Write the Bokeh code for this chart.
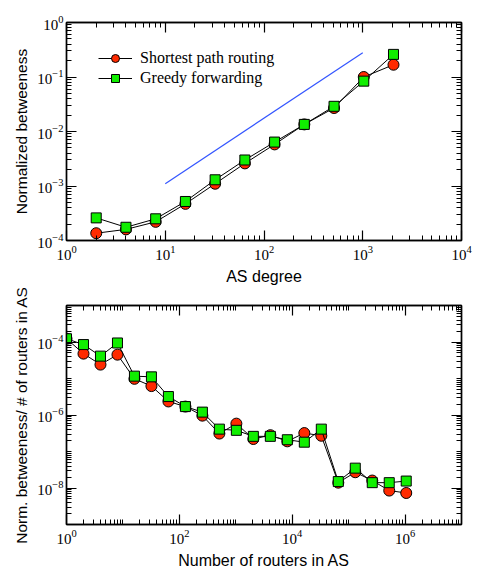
from bokeh.plotting import figure
from bokeh.models import (LogAxis, FixedTicker, Range1d, Legend, LegendItem, LogScale,
                          CustomJSTickFormatter)
from bokeh.layouts import column
from bokeh.embed import file_html
from bokeh.resources import INLINE

# ---------------- data ----------------
as_degree = [2, 4, 8, 16, 32, 64, 128, 256, 512, 1024, 2048]
sp_betweeness = [1.36e-4, 1.6e-4, 2.2e-4, 4.7e-4, 1.1e-3, 2.6e-3, 5.8e-3, 1.35e-2, 2.7e-2, 0.10, 0.168]
gf_betweeness = [2.6e-4, 1.75e-4, 2.5e-4, 5.2e-4, 1.3e-3, 3.0e-3, 6.4e-3, 1.35e-2, 2.9e-2, 0.084, 0.26]
guide_x = [10, 1000]
guide_y = [1.1e-3, 0.28]

routers = [1, 2, 4, 8, 16, 32, 64, 128, 256, 512, 1024, 2048, 4096, 8192,
           16384, 32768, 65536, 131072, 262144, 524288, 1048576]
sp_norm = [1.23e-4, 4.8e-5, 2.4e-5, 4.5e-5, 9.8e-6, 6.2e-6, 2.35e-6, 1.7e-6, 9.6e-7, 3.1e-7,
           5.8e-7, 2.2e-7, 2.8e-7, 1.9e-7, 3.2e-7, 2.7e-7, 1.4e-8, 2.7e-8, 1.6e-8, 8.5e-9, 7.3e-9]
gf_norm = [1.23e-4, 8.5e-5, 4.1e-5, 9.4e-5, 1.16e-5, 1.11e-5, 3.2e-6, 1.7e-6, 1.2e-6, 4.1e-7,
           3.8e-7, 2.6e-7, 2.6e-7, 2.1e-7, 1.8e-7, 4.1e-7, 1.5e-8, 3.5e-8, 1.4e-8, 1.4e-8, 1.55e-8]

top_x_ticks = [1, 10, 100, 1000, 10000]
top_y_ticks = [1e-4, 1e-3, 1e-2, 1e-1, 1]
bot_x_ticks = [1, 1e2, 1e4, 1e6]
bot_y_ticks = [1e-8, 1e-6, 1e-4]

RED = "#ff2a00"
GREEN = "#10ee00"
BLUE = "#3355ff"
SERIF = "Liberation Serif"
SANS = "Liberation Sans"


def minors(lo_exp, hi_exp):
    return [k * 10.0 ** n for n in range(lo_exp, hi_exp) for k in range(1, 10)]


def style_axis(ax, show_labels=True, horizontal=False):
    ax.axis_line_width = 1.4
    ax.axis_line_color = "black"
    ax.major_tick_in = 10
    ax.major_tick_out = 0
    ax.minor_tick_in = 5
    ax.minor_tick_out = 0
    ax.major_tick_line_width = 1.2
    ax.minor_tick_line_width = 1
    ax.major_tick_line_color = "black"
    ax.minor_tick_line_color = "black"
    ax.major_label_text_font = SERIF
    ax.major_label_text_font_size = "15px"
    ax.major_label_text_color = "black"
    ax.major_label_standoff = 5 if horizontal else 3
    ax.axis_label_text_font = SANS
    ax.axis_label_text_font_style = "normal"
    ax.axis_label_text_color = "black"
    ax.axis_label_standoff = 5 if horizontal else 4
    if not show_labels:
        ax.formatter = CustomJSTickFormatter(code="return '';")
        ax.major_label_standoff = 0


def make_fig(xr, yr, frame_h, border_top, border_bottom, xticks, xminor, yticks, yminor):
    p = figure(frame_width=395, frame_height=frame_h,
               x_axis_type=None, y_axis_type=None,
               x_range=xr, y_range=yr,
               output_backend="svg", toolbar_location=None,
               min_border_left=66, min_border_right=16,
               min_border_top=border_top, min_border_bottom=border_bottom)
    p.x_scale = LogScale()
    p.y_scale = LogScale()
    p.outline_line_color = "black"
    p.outline_line_width = 1.4
    axes = {}
    for place, ticks, mins, lab, hor in [("below", xticks, xminor, True, True),
                                          ("above", xticks, xminor, False, True),
                                          ("left", yticks, yminor, True, False),
                                          ("right", yticks, yminor, False, False)]:
        ax = LogAxis(ticker=FixedTicker(ticks=ticks, minor_ticks=mins))
        style_axis(ax, lab, hor)
        p.add_layout(ax, place)
        axes[place] = ax
    return p, axes


# ---------------- top panel ----------------
p1, ax1 = make_fig(Range1d(1, 1e4), Range1d(1e-4, 1), 218, 22, 46,
                   top_x_ticks, minors(0, 4), top_y_ticks, minors(-4, 0))
ax1["below"].axis_label = "AS degree"
ax1["below"].axis_label_text_font_size = "16px"
ax1["left"].axis_label = "Normalized betweeness"
ax1["left"].axis_label_text_font_size = "15.5px"

p1.line(guide_x, guide_y, line_color=BLUE, line_width=1.2)
l_sp = p1.line(as_degree, sp_betweeness, line_color="black", line_width=1)
s_sp = p1.scatter(as_degree, sp_betweeness, marker="circle", size=11,
                  fill_color=RED, line_color="black", line_width=1)
l_gf = p1.line(as_degree, gf_betweeness, line_color="black", line_width=1)
s_gf = p1.scatter(as_degree, gf_betweeness, marker="square", size=10,
                  fill_color=GREEN, line_color="black", line_width=1)

legend = Legend(items=[LegendItem(label="Shortest path routing", renderers=[l_sp, s_sp]),
                       LegendItem(label="Greedy forwarding", renderers=[l_gf, s_gf])],
                location=(32, 152), padding=0, margin=0, spacing=0,
                glyph_width=34, glyph_height=20, label_height=20, label_standoff=8,
                label_text_font=SERIF, label_text_font_size="16px", label_text_color="black",
                border_line_color=None, background_fill_alpha=0)
p1.add_layout(legend)

# ---------------- bottom panel ----------------
p2, ax2 = make_fig(Range1d(1, 1e7), Range1d(1e-9, 1e-3), 219, 18, 46,
                   bot_x_ticks, minors(0, 7), bot_y_ticks, minors(-9, -3))
ax2["below"].axis_label = "Number of routers in AS"
ax2["below"].axis_label_text_font_size = "16px"
ax2["left"].axis_label = "Norm. betweeness/ # of routers in AS"
ax2["left"].axis_label_text_font_size = "15.5px"

p2.line(routers, sp_norm, line_color="black", line_width=1)
p2.scatter(routers, sp_norm, marker="circle", size=11,
           fill_color=RED, line_color="black", line_width=1)
p2.line(routers, gf_norm, line_color="black", line_width=1)
p2.scatter(routers, gf_norm, marker="square", size=10,
           fill_color=GREEN, line_color="black", line_width=1)

layout = column(p1, p2, spacing=0)
open("out.html", "w").write(file_html(layout, INLINE))
